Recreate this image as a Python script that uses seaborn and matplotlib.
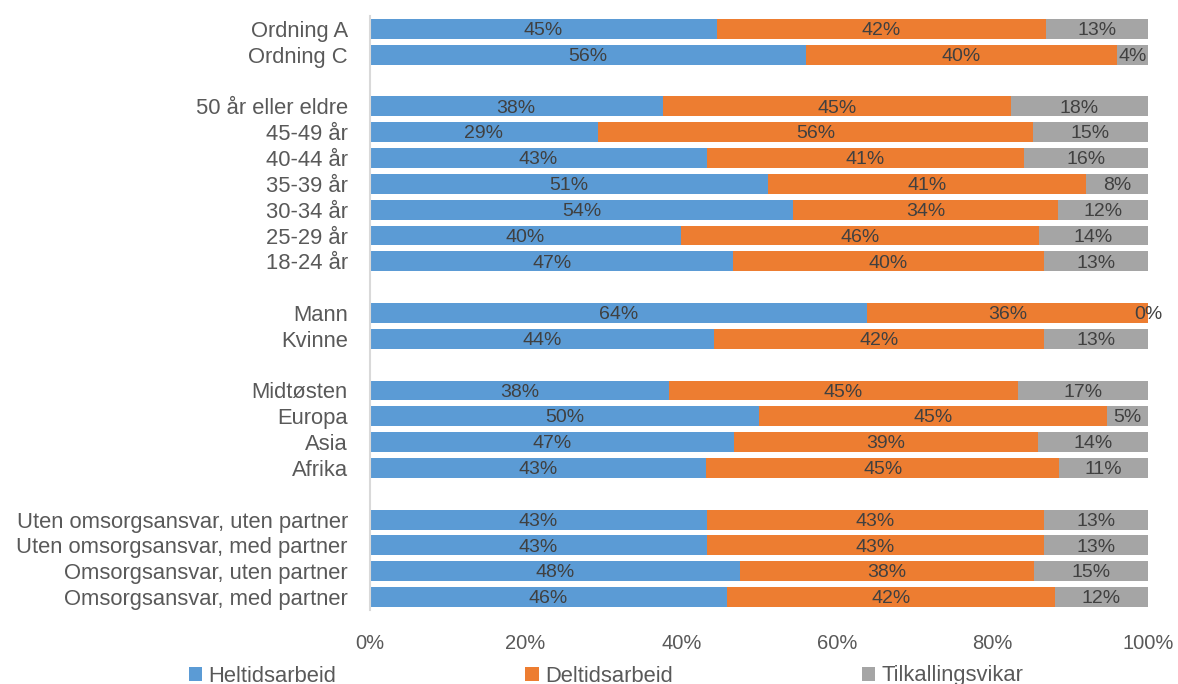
import matplotlib
matplotlib.use("Agg")
import matplotlib.pyplot as plt
from matplotlib.patches import Patch
import seaborn as sns
import pandas as pd
import numpy as np

# Groups of categories (top to bottom); a blank row separates groups
ordning = ["Ordning A", "Ordning C"]
alder = ["50 år eller eldre", "45-49 år", "40-44 år", "35-39 år",
         "30-34 år", "25-29 år", "18-24 år"]
kjonn = ["Mann", "Kvinne"]
region = ["Midtøsten", "Europa", "Asia", "Afrika"]
omsorg = ["Uten omsorgsansvar, uten partner", "Uten omsorgsansvar, med partner",
          "Omsorgsansvar, uten partner", "Omsorgsansvar, med partner"]
groups = [ordning, alder, kjonn, region, omsorg]

# Share (%) in each category, same order as the groups above
heltid = [44.6, 56.0,
          37.6, 29.3, 43.3, 51.2, 54.4, 40.0, 46.7,
          63.9, 44.2,
          38.4, 50.0, 46.8, 43.2,
          43.3, 43.3, 47.6, 45.9]
deltid = [42.3, 40.0,
          44.8, 55.9, 40.7, 40.8, 34.0, 46.0, 39.9,
          36.1, 42.4,
          44.9, 44.7, 39.1, 45.4,
          43.3, 43.3, 37.7, 42.1]
tilkalling = [13.1, 4.0,
              17.6, 14.8, 16.0, 8.0, 11.6, 14.0, 13.4,
              0.0, 13.4,
              16.7, 5.3, 14.1, 11.4,
              13.4, 13.4, 14.7, 12.0]

series_names = ["Heltidsarbeid", "Deltidsarbeid", "Tilkallingsvikar"]
colors = ["#5B9BD5", "#ED7D31", "#A5A5A5"]
xticks = [0, 20, 40, 60, 80, 100]

categories = [c for g in groups for c in g]
order = []
for gi, g in enumerate(groups):
    if gi > 0:
        order.append(" " * gi)
    order.extend(g)

df = pd.DataFrame({"kategori": categories, "Heltidsarbeid": heltid,
                   "Deltidsarbeid": deltid, "Tilkallingsvikar": tilkalling})
df["c1"] = df["Heltidsarbeid"]
df["c2"] = df["c1"] + df["Deltidsarbeid"]
df["c3"] = df["c2"] + df["Tilkallingsvikar"]

sns.set_theme(style="white")
plt.rcParams["font.family"] = ["Liberation Sans", "DejaVu Sans"]

fig = plt.figure(figsize=(11.78, 6.84), dpi=100)
ax = fig.add_axes([370 / 1178, 1 - 610 / 684, 778 / 1178, 594 / 684])

# Stacked bars: draw cumulative totals back to front
for col, color in zip(["c3", "c2", "c1"], colors[::-1]):
    sns.barplot(data=df, x=col, y="kategori", order=order, orient="h",
                color=color, saturation=1, width=0.77, errorbar=None,
                linewidth=0, ax=ax)

# Segment labels, centred in each segment
pos = {c: order.index(c) for c in categories}
for _, row in df.iterrows():
    y = pos[row["kategori"]]
    start = 0.0
    for name in series_names:
        v = row[name]
        ax.annotate(f"{v:.0f}%", xy=(start + v / 2, y), xytext=(0, -1.2),
                    textcoords="offset points", ha="center", va="center",
                    fontsize=14, color="#404040", annotation_clip=False)
        start += v

ax.set_xlim(0, 100)
ax.set_ylim(len(order) - 0.5, -0.5)
ax.set_xticks(xticks)
ax.set_xticklabels([f"{t}%" for t in xticks])
ax.set_xlabel("")
ax.set_ylabel("")
ax.tick_params(axis="x", length=0, pad=17, labelsize=14.5, labelcolor="#595959")
ax.tick_params(axis="y", length=0, pad=16, labelsize=15.8, labelcolor="#595959")

for s in ["top", "right", "bottom"]:
    ax.spines[s].set_visible(False)
ax.spines["left"].set_color("#D9D9D9")
ax.spines["left"].set_linewidth(1.5)

handles = [Patch(facecolor=c, edgecolor="none", label=n)
           for c, n in zip(colors, series_names)]
fig.legend(handles=handles, loc="center left", bbox_to_anchor=(189 / 1178, 1 - 676 / 684),
           ncol=3, frameon=False, fontsize=15.8, labelcolor="#595959",
           handlelength=0.6, handleheight=0.6, handletextpad=0.3,
           columnspacing=8.6, borderpad=0, borderaxespad=0)

fig.savefig("out.png", dpi=100)
